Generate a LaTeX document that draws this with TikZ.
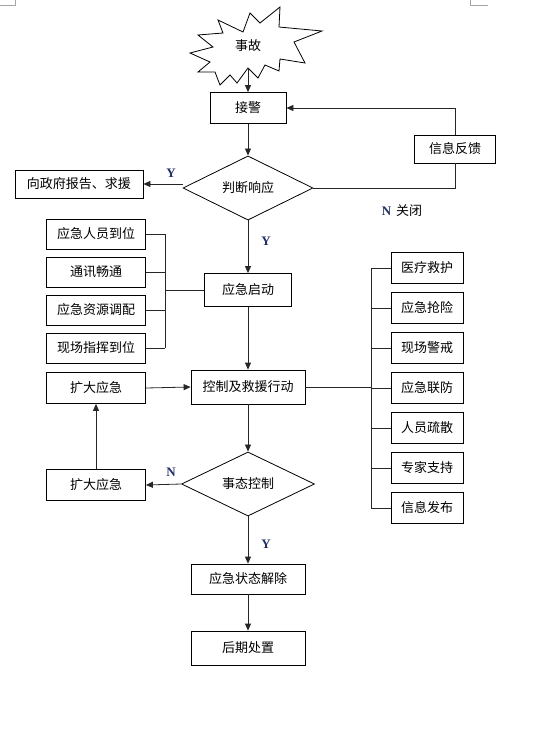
\documentclass[tikz,border=0pt]{standalone}
\usepackage{fontspec}
\setmainfont{Liberation Serif}
\newfontfamily\cjk{Noto Sans CJK SC}
\usetikzlibrary{shapes.geometric,arrows.meta}
\definecolor{labelblue}{RGB}{31,45,110}

\begin{document}
\begin{tikzpicture}[x=1pt,y=-1pt,
    box/.style={draw=black,line width=0.8pt,inner sep=0pt,font=\cjk\fontsize{13}{13}\selectfont},
    choice/.style={diamond,draw=black,line width=0.8pt,inner sep=0pt,font=\cjk\fontsize{13}{13}\selectfont},
    link/.style={line width=0.8pt,draw=black!85},
    arr/.style={link,-{Triangle[length=7pt,width=6pt]}},
    yn/.style={font=\bfseries\fontsize{13}{13}\selectfont,text=labelblue}]
    \useasboundingbox (0,0) rectangle (558,747);

    % page corner marks
    \draw[gray!70,line width=0.6pt] (0,5.5) -- (15,5.5) -- (15,0);
    \draw[gray!70,line width=0.6pt] (470,0) -- (470,5.5) -- (488,5.5);

    % accident burst
    \draw[line width=0.8pt] (218,20) -- (243,32) -- (250,13) -- (260,23) -- (280,7) -- (279,27)
        -- (322,31) -- (294,42) -- (305,63) -- (280,59) -- (279,71) -- (265,65) -- (258,78)
        -- (248,68) -- (237,83) -- (230,75) -- (220,85) -- (215,72) -- (198,72) -- (210,62)
        -- (190,53) -- (213,47) -- (198,35) -- (223,33) -- cycle;
    \node[font=\cjk\fontsize{13}{13}\selectfont,inner sep=0pt,minimum height=44pt] (acc) at (248,46) {事故};

    % main column
    \node[box,minimum width=76pt,minimum height=31pt] (jiejing) at (248,108) {接警};
    \node[choice,minimum width=130pt,minimum height=59pt] (judge) at (248,188) {判断响应};
    \node[box,minimum width=128pt,minimum height=28pt] (report) at (79,184) {向政府报告、求援};
    \node[box,minimum width=81pt,minimum height=28pt] (feedback) at (455,149) {信息反馈};
    \node[box,minimum width=87pt,minimum height=33pt] (start) at (248,290) {应急启动};
    \node[box,minimum width=114pt,minimum height=34pt] (ctrl) at (248,387) {控制及救援行动};
    \node[choice,minimum width=133pt,minimum height=62pt] (state) at (248,484) {事态控制};
    \node[box,minimum width=114pt,minimum height=30pt] (release) at (248,579) {应急状态解除};
    \node[box,minimum width=114pt,minimum height=34pt] (after) at (248,648) {后期处置};
    \node[box,minimum width=99pt,minimum height=31pt] (expand1) at (96,388) {扩大应急};
    \node[box,minimum width=99pt,minimum height=31pt] (expand2) at (96,485) {扩大应急};

    % left group
    \coordinate (lbus) at (165,290);
    \foreach \txt [count=\i] in {应急人员到位,通讯畅通,应急资源调配,现场指挥到位}{
        \node[box,minimum width=99pt,minimum height=30pt] (l\i) at (96,196+38*\i) {\txt};
        \draw[link] (l\i.east) -- (l\i.east -| lbus);
    }
    \draw[link] (lbus |- l1.east) -- (lbus |- l4.east);
    \draw[link] (lbus) -- (start.west);

    % right group
    \coordinate (rbus) at (371,388);
    \foreach \txt [count=\i] in {医疗救护,应急抢险,现场警戒,应急联防,人员疏散,专家支持,信息发布}{
        \node[box,minimum width=72pt,minimum height=31pt] (r\i) at (427,228+40*\i) {\txt};
        \draw[link] (rbus |- r\i.west) -- (r\i.west);
    }
    \draw[link] (rbus |- r1.west) -- (rbus |- r7.west);
    \draw[link] (ctrl.east) -- (ctrl.east -| rbus);

    % connectors
    \draw[arr] (acc.south) -- (jiejing.north);
    \draw[arr] (jiejing.south) -- (judge.north);
    \draw[arr] (judge.west |- report.east) -- (report.east);
    \draw[link] (judge.east) -| (feedback.south);
    \draw[arr] (feedback.north) |- (jiejing.east);
    \draw[arr] (judge.south) -- (start.north);
    \draw[arr] (start.south) -- (ctrl.north);
    \draw[arr] (expand1.east) -- (ctrl.west);
    \draw[arr] (ctrl.south) -- (state.north);
    \draw[arr] (state.west) -- (expand2.east);
    \draw[arr] (expand2.north) -- (expand1.south);
    \draw[arr] (state.south) -- (release.north);
    \draw[arr] (release.south) -- (after.north);

    % labels
    \node[yn] (y1) at (171,173) {Y};
    \node[yn] (y2) at (266,241) {Y};
    \node[yn] (n1) at (171,472) {N};
    \node[yn] (y3) at (266,544) {Y};
    \node (close) at (402,211) {\textcolor{labelblue}{\bfseries\fontsize{13}{13}\selectfont N}\hspace{5pt}{\cjk\fontsize{13}{13}\selectfont 关闭}};
\end{tikzpicture}
\end{document}
